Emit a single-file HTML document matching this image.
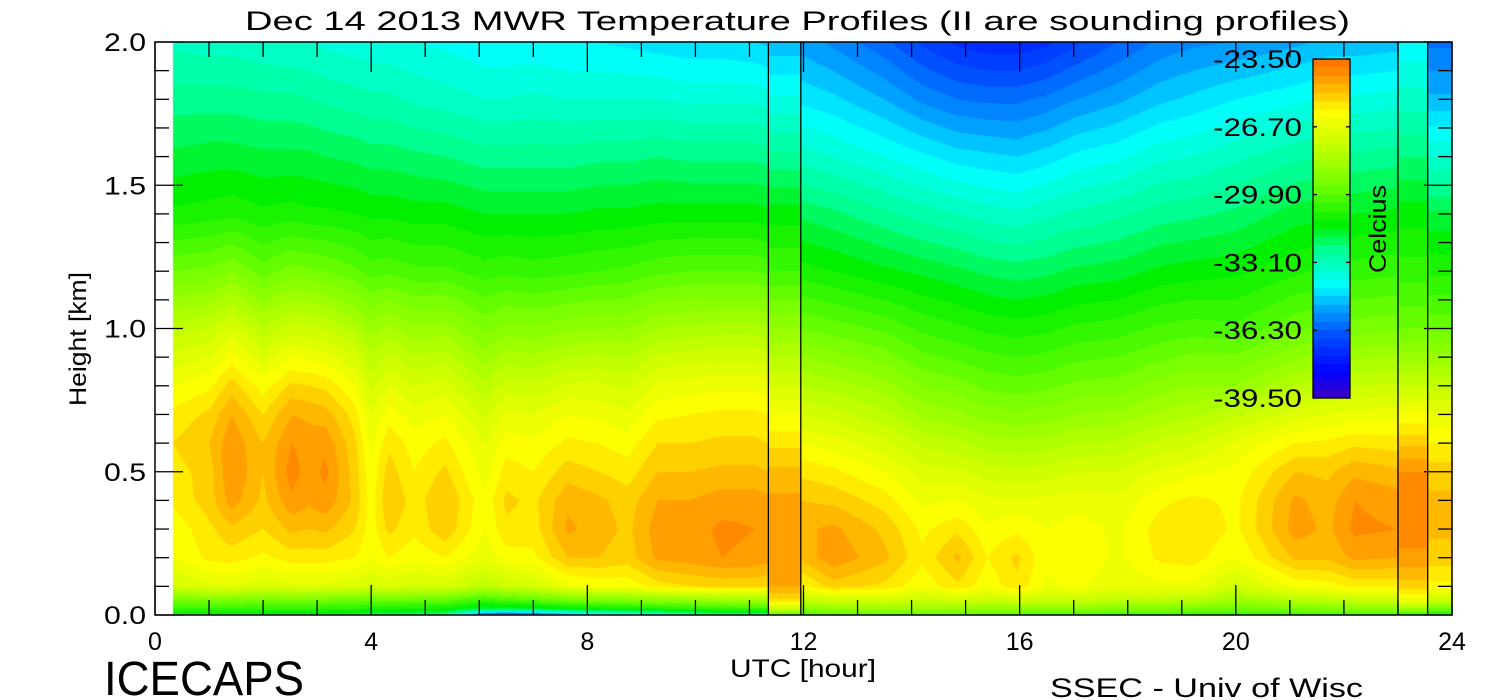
<!DOCTYPE html>
<html><head><meta charset="utf-8">
<style>
html,body{margin:0;padding:0;background:#fff;width:1500px;height:700px;overflow:hidden}
#wrap{position:relative;width:1500px;height:700px}
canvas,svg{position:absolute;left:0;top:0}
text{font-family:"Liberation Sans",sans-serif;fill:#000;font-weight:normal}
</style></head><body>
<div id="wrap">
<canvas id="cv" width="1500" height="700"></canvas>
<svg id="sv" width="1500" height="700"></svg>
</div>
<script>
// ---- data ----
const heightsKm=[0,0.02,0.05,0.1,0.2,0.3,0.4,0.5,0.6,0.7,0.8,0.9,1.0,1.2,1.4,1.6,1.8,2.0];
const timesA=[0.33,1.0,1.42,2.0,2.53,2.85,3.15,3.7,4.0,4.33,4.8,5.37,6.1,6.5,7.0,7.64,8.2,8.75,9.3,9.9,10.5,11.1,11.35];
const tempsA=[
[-31.5,-30.5,-29.5,-27.2,-26.3,-26.2,-25.8,-25.7,-25.5,-25.8,-26.3,-27,-27.7,-29.5,-31,-31.8,-32.5,-33.2],
[-31.5,-30.5,-29.3,-26.8,-25.8,-25.6,-25.3,-25.3,-25.1,-25.4,-26,-26.7,-27.5,-29.4,-30.9,-31.7,-32.5,-33.3],
[-31.5,-30.5,-29.3,-26.7,-25.7,-25.2,-24.5,-24.3,-24.4,-24.7,-25.3,-26.1,-27,-29.1,-30.8,-31.7,-32.5,-33.3],
[-31.5,-30.6,-29.5,-27,-26,-25.5,-25.2,-25.1,-25.1,-25.5,-26.1,-26.9,-27.8,-29.7,-31,-31.8,-32.6,-33.4],
[-31.6,-30.6,-29.4,-26.8,-25.7,-25,-24.4,-24.1,-24.3,-24.7,-25.4,-26.3,-27.3,-29.3,-30.9,-31.8,-32.6,-33.5],
[-31.6,-30.6,-29.4,-26.8,-25.7,-25.1,-24.6,-24.5,-24.5,-24.8,-25.5,-26.4,-27.4,-29.4,-31,-31.8,-32.7,-33.5],
[-31.7,-30.7,-29.5,-26.8,-25.7,-25,-24.4,-24.2,-24.4,-24.9,-25.6,-26.5,-27.5,-29.5,-31,-31.9,-32.8,-33.6],
[-31.8,-30.8,-29.6,-27,-25.9,-25.5,-25.2,-25.3,-25.4,-25.7,-26.3,-27.1,-28,-29.8,-31.1,-32,-32.9,-33.7],
[-32,-31,-29.7,-27.2,-26.3,-26.1,-26.1,-26.2,-26.4,-26.7,-27.2,-27.8,-28.5,-30.1,-31.2,-32.1,-33,-33.8],
[-32,-31,-29.6,-27,-25.9,-25.4,-25.1,-25.3,-25.6,-26.1,-26.7,-27.4,-28.2,-30,-31.2,-32.1,-33,-33.8],
[-32.2,-31.1,-29.7,-27.2,-26.2,-25.8,-25.7,-25.9,-26.1,-26.5,-27.1,-27.8,-28.6,-30.2,-31.3,-32.2,-33.2,-33.9],
[-32.5,-31.2,-29.8,-27.1,-25.9,-25.2,-25.1,-25.4,-25.8,-26.3,-26.9,-27.7,-28.5,-30.2,-31.3,-32.3,-33.3,-34],
[-36.5,-32,-30.5,-27.8,-26.6,-26.3,-26.2,-26.5,-26.7,-27.2,-27.8,-28.5,-29.2,-30.5,-31.5,-32.5,-33.5,-34.2],
[-37,-32,-30.2,-27.4,-26.1,-25.6,-25.4,-25.7,-26.1,-26.6,-27.3,-28.1,-28.9,-30.4,-31.5,-32.5,-33.5,-34.2],
[-36.5,-31.8,-30,-27.2,-26,-25.7,-25.6,-25.9,-26.2,-26.7,-27.4,-28.2,-29,-30.5,-31.5,-32.5,-33.4,-34.2],
[-35.5,-31.5,-29.5,-26.4,-25.1,-24.6,-24.8,-25.3,-25.8,-26.3,-27,-27.9,-28.8,-30.4,-31.5,-32.5,-33.5,-34.3],
[-34.5,-31.3,-29.3,-26.2,-25.1,-24.9,-25,-25.5,-25.9,-26.4,-27,-27.8,-28.7,-30.3,-31.4,-32.4,-33.5,-34.3],
[-34,-31.2,-29.2,-26.2,-25.3,-25.2,-25.3,-25.7,-26.1,-26.6,-27.2,-27.9,-28.7,-30.2,-31.4,-32.4,-33.5,-34.4],
[-33.5,-31,-29,-25.7,-24.6,-24.5,-24.7,-25.1,-25.5,-26,-26.6,-27.4,-28.3,-30,-31.3,-32.3,-33.5,-34.5],
[-33,-30.8,-28.8,-25.5,-24.5,-24.5,-24.7,-25.1,-25.5,-25.9,-26.5,-27.3,-28.2,-29.9,-31.3,-32.4,-33.6,-34.6],
[-32.5,-30.6,-28.6,-25.4,-24.3,-24.2,-24.5,-25,-25.4,-25.8,-26.4,-27.2,-28.1,-29.9,-31.3,-32.4,-33.6,-34.6],
[-32.5,-30.5,-28.5,-25.4,-24.4,-24.3,-24.5,-25,-25.4,-25.8,-26.4,-27.2,-28.1,-29.9,-31.3,-32.4,-33.6,-34.7],
[-32.5,-30.5,-28.5,-25.5,-24.5,-24.4,-24.6,-25.1,-25.5,-25.9,-26.5,-27.3,-28.2,-30,-31.4,-32.5,-33.7,-34.8]];
const sounding1Times=[11.35,11.95];
const sounding1Temps=[-30,-27.5,-25.6,-24.7,-24.5,-24.5,-24.6,-25,-25.6,-26.3,-27.1,-27.9,-28.7,-30.3,-31.3,-32.6,-33.8,-35];
const timesB=[11.95,12.55,13.5,14.2,14.85,15.4,15.95,16.5,17.05,17.8,18.6,19.2,20.0,21.1,21.7,22.2,23.0];
const tempsB=[
[-30,-29,-27.8,-26,-25,-24.8,-25.1,-25.6,-26.3,-27.1,-27.9,-28.7,-29.5,-30.9,-32,-33.3,-34.4,-35.3],
[-29.8,-28.8,-27.3,-25.3,-24.4,-24.6,-25.2,-25.8,-26.5,-27.3,-28.1,-28.9,-29.7,-31.1,-32.2,-33.5,-34.6,-35.6],
[-29.6,-28.6,-27.2,-25.6,-25,-25.2,-25.7,-26.3,-27,-27.8,-28.5,-29.3,-30,-31.4,-32.6,-33.9,-35.1,-36.2],
[-29.6,-28.6,-27.5,-26.2,-25.8,-26,-26.4,-26.9,-27.6,-28.4,-29.1,-29.8,-30.4,-31.6,-32.9,-34.2,-35.6,-36.8],
[-29.7,-28.7,-27.3,-25.6,-25,-25.6,-26.3,-27,-27.8,-28.6,-29.3,-30,-30.6,-31.8,-33.1,-34.5,-35.9,-37.2],
[-29.8,-28.8,-27.5,-26.2,-25.9,-26.2,-26.6,-27.3,-28.1,-28.9,-29.6,-30.2,-30.8,-32,-33.3,-34.6,-36,-37.4],
[-30,-28.8,-27.3,-25.6,-25.4,-26,-26.6,-27.4,-28.2,-29,-29.7,-30.3,-30.9,-32.1,-33.4,-34.7,-36,-37.4],
[-30,-29,-27.6,-26.4,-26.2,-26.3,-26.6,-27.3,-28.1,-28.9,-29.6,-30.2,-30.8,-32,-33.2,-34.5,-35.8,-37.2],
[-30,-28.9,-27.5,-26.2,-25.9,-26.1,-26.5,-27.1,-27.9,-28.7,-29.4,-30,-30.6,-31.8,-33,-34.2,-35.5,-36.8],
[-30.2,-29.1,-27.8,-26.6,-26.4,-26.4,-26.6,-27.1,-27.8,-28.6,-29.3,-29.9,-30.5,-31.7,-32.8,-34,-35.2,-36.3],
[-30.3,-29.2,-27.8,-26.4,-25.8,-25.7,-26,-26.6,-27.4,-28.2,-28.9,-29.6,-30.2,-31.4,-32.5,-33.6,-34.8,-35.8],
[-30.4,-29.3,-27.9,-26.4,-25.7,-25.5,-25.8,-26.4,-27.2,-28,-28.7,-29.4,-30.1,-31.3,-32.4,-33.5,-34.6,-35.6],
[-30.5,-29.5,-28.5,-27.3,-26.3,-26,-26,-26.2,-26.6,-27.6,-28.7,-29.4,-30.2,-31.2,-32.2,-33.2,-34.3,-35.5],
[-30.3,-29.3,-28,-26.2,-25,-24.5,-24.6,-25.1,-25.9,-26.9,-27.9,-28.8,-29.6,-30.8,-31.7,-32.8,-34,-35.2],
[-30.2,-29.2,-27.8,-26.1,-25,-24.8,-24.9,-25.2,-25.8,-26.7,-27.6,-28.5,-29.4,-30.6,-31.6,-32.7,-33.8,-35],
[-30,-29,-27.6,-25.8,-24.6,-24.2,-24.3,-24.8,-25.6,-26.5,-27.5,-28.4,-29.3,-30.5,-31.5,-32.6,-33.8,-35],
[-30,-29,-27.5,-25.8,-24.7,-24.3,-24.5,-25,-25.7,-26.5,-27.4,-28.3,-29.2,-30.4,-31.4,-32.5,-33.7,-34.9]];
const sounding2Times=[23.0,23.55];
const sounding2Temps=[-30.5,-28.5,-26.5,-25.3,-24.4,-24.1,-24.1,-24.3,-25.2,-26.2,-27.5,-28.5,-29.5,-30.5,-31.3,-32.3,-33.3,-34.2];
const timesC=[23.55,24.0];
const tempsC=[-31,-29.5,-27.5,-26,-25.3,-25,-25,-25.3,-25.9,-26.6,-27.6,-28.6,-29.6,-30.8,-31.8,-33.5,-35,-36];
const soundingLines=[11.35,11.95,23.0,23.55];
const xTickLabels=["0","4","8","12","16","20","24"];
const yTickLabels=["0.0","0.5","1.0","1.5","2.0"];
const cbarLabels=["-23.50","-26.70","-29.90","-33.10","-36.30","-39.50"];
const cbarMin=-39.5, cbarMax=-23.5;

// ---- axes ----
const PX0=155,PX1=1452,PY0=42,PY1=615;
const xS=h=>PX0+(h/24)*(PX1-PX0);
const yS=k=>PY1-(k/2)*(PY1-PY0);
const CB={x0:1313,x1:1350,y0:59,y1:398};
const cbY=t=>CB.y1-(t-cbarMin)/(cbarMax-cbarMin)*(CB.y1-CB.y0);

const stops=[[-39.5,[64,0,192]],[-38.3,[0,0,255]],[-36.5,[0,80,255]],[-35.3,[0,160,255]],[-34.2,[0,255,255]],[-32.5,[0,255,144]],[-31.3,[0,240,0]],[-29.5,[112,255,0]],[-27.5,[200,255,0]],[-26.0,[255,255,0]],[-25.3,[255,208,0]],[-24.5,[255,160,0]],[-23.5,[255,106,0]]];
function cmap(t){
  const step=0.4;
  t=cbarMin+(Math.floor((t-cbarMin)/step)+0.5)*step;
  if(t<=stops[0][0])return stops[0][1];
  for(let i=1;i<stops.length;i++){if(t<=stops[i][0]){const a=stops[i-1],b=stops[i];const f=(t-a[0])/(b[0]-a[0]);return a[1].map((v,j)=>Math.round(v+(b[1][j]-v)*f));}}
  return stops[stops.length-1][1];
}
function profAt(col,k){
  let i=0;while(i<heightsKm.length-2&&k>heightsKm[i+1])i++;
  const f=Math.max(0,Math.min(1,(k-heightsKm[i])/(heightsKm[i+1]-heightsKm[i])));
  return col[i]+(col[i+1]-col[i])*f;
}
function gridAt(times,cols,h,k){
  let i=0;while(i<times.length-2&&h>times[i+1])i++;
  const f=Math.max(0,Math.min(1,(h-times[i])/(times[i+1]-times[i])));
  return profAt(cols[i],k)*(1-f)+profAt(cols[i+1],k)*f;
}
function tempAt(h,k){
  if(h<timesA[0])return null;
  if(h<sounding1Times[0])return gridAt(timesA,tempsA,h,k);
  if(h<sounding1Times[1])return profAt(sounding1Temps,k);
  if(h<sounding2Times[0])return gridAt(timesB,tempsB,h,k);
  if(h<sounding2Times[1])return profAt(sounding2Temps,k);
  return profAt(tempsC,k);
}
const cv=document.getElementById('cv');const ctx=cv.getContext('2d');
ctx.fillStyle='#fff';ctx.fillRect(0,0,1500,700);
const W=PX1-PX0,H=PY1-PY0;
const img=ctx.createImageData(W,H);
for(let py=0;py<H;py++){const k=(PY1-(PY0+py+0.5))/(PY1-PY0)*2;
  for(let px=0;px<W;px++){const h=(px+0.5)/W*24;const t=tempAt(h,k);const o=(py*W+px)*4;
    if(t===null){img.data[o]=255;img.data[o+1]=255;img.data[o+2]=255;}else{const c=cmap(t);img.data[o]=c[0];img.data[o+1]=c[1];img.data[o+2]=c[2];}
    img.data[o+3]=255;}}
ctx.putImageData(img,PX0,PY0);
// colorbar
for(let y=CB.y0;y<CB.y1;y++){const t=cbarMin+(CB.y1-y-0.5)/(CB.y1-CB.y0)*(cbarMax-cbarMin);const c=cmap(t);ctx.fillStyle=`rgb(${c[0]},${c[1]},${c[2]})`;ctx.fillRect(CB.x0,y,CB.x1-CB.x0,1);}

// ---- svg overlay ----
const NS='http://www.w3.org/2000/svg';const sv=document.getElementById('sv');
function el(tag,attrs,txt){const e=document.createElementNS(NS,tag);for(const a in attrs)e.setAttribute(a,attrs[a]);if(txt!==undefined)e.textContent=txt;sv.appendChild(e);return e;}
function line(x1,y1,x2,y2,name){const e=el('line',{x1,y1,x2,y2,stroke:'#000','stroke-width':1.3});

return e;}
soundingLines.forEach(h=>{const e=line(xS(h),PY0,xS(h),PY1,'sounding-line');});
const fr=el('rect',{x:PX0,y:PY0,width:PX1-PX0,height:PY1-PY0,fill:'none',stroke:'#000','stroke-width':1.5});


for(let h=0;h<=24;h++){const L=(h%4===0)?30:15;line(xS(h),PY1,xS(h),PY1-L,'x-tick');line(xS(h),PY0,xS(h),PY0+L,'x-tick');}
for(let i=0;i<=20;i++){const k=i*0.1;const L=(i%5===0)?28:14;line(PX0,yS(k),PX0+L,yS(k),'y-tick');line(PX1,yS(k),PX1-L,yS(k),'y-tick');}
xTickLabels.forEach((s,i)=>{const t=el('text',{x:xS(i*4),y:650,'font-size':25,'text-anchor':'middle'},s);

});
yTickLabels.forEach((s,i)=>{const t=el('text',{x:146,y:yS(i*0.5)+9,'font-size':25,'text-anchor':'end',textLength:42,lengthAdjust:'spacingAndGlyphs'},s);

});
const ti=el('text',{x:245,y:30,'font-size':27,textLength:1105,lengthAdjust:'spacingAndGlyphs'},'Dec 14 2013 MWR Temperature Profiles (II are sounding profiles)');


const yt=el('text',{x:0,y:0,'font-size':24,transform:'translate(86,406) rotate(-90)',textLength:134,lengthAdjust:'spacingAndGlyphs'},'Height [km]');


const xt=el('text',{x:730,y:677,'font-size':25,textLength:146,lengthAdjust:'spacingAndGlyphs'},'UTC [hour]');


const ic=el('text',{x:104,y:695,'font-size':48,textLength:200,lengthAdjust:'spacingAndGlyphs','font-weight':'normal'},'ICECAPS');


const ss=el('text',{x:1050,y:697,'font-size':27,textLength:313,lengthAdjust:'spacingAndGlyphs'},'SSEC - Univ of Wisc');


const cbr=el('rect',{x:CB.x0,y:CB.y0,width:CB.x1-CB.x0,height:CB.y1-CB.y0,fill:'none',stroke:'#000','stroke-width':1.3});


cbarLabels.forEach(s=>{const v=parseFloat(s);const y=cbY(v);
const t=el('text',{x:1213,y:y+9,'font-size':25,textLength:89,lengthAdjust:'spacingAndGlyphs'},s);


line(CB.x0,y,CB.x0+4,y,'colorbar-tick');line(CB.x1,y,CB.x1-4,y,'colorbar-tick');});
const ce=el('text',{x:0,y:0,'font-size':24,transform:'translate(1386,273) rotate(-90)',textLength:88,lengthAdjust:'spacingAndGlyphs'},'Celcius');


</script>
</body></html>
